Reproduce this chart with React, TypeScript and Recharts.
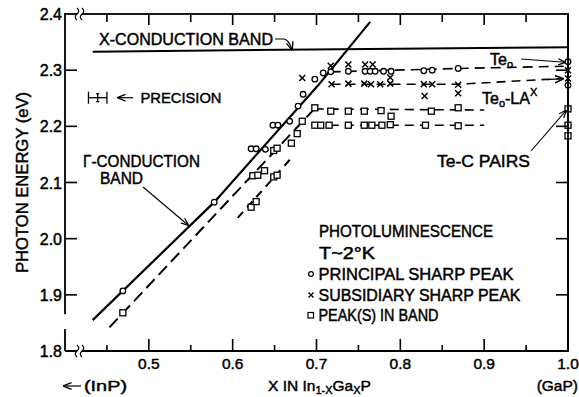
import React from 'react';
import { ScatterChart, Scatter, XAxis, YAxis, ErrorBar, ReferenceLine } from 'recharts';

const W = 579;
const H = 397;
const INK = '#000000';
const FONT = '"Liberation Sans", Arial, Helvetica, sans-serif';

// plot box, has to agree with the margins / axis sizes passed to the chart
const LEFT = 65;
const RIGHT = 568;
const TOP = 14;
const BOTTOM = 351;
const X_MIN = 0.4;
const X_MAX = 1.0;
const Y_MIN = 1.8;
const Y_MAX = 2.4;

const xTicks = [0.4, 0.45, 0.5, 0.55, 0.6, 0.65, 0.7, 0.75, 0.8, 0.85, 0.9, 0.95, 1.0];
const yTicks = [1.8, 1.9, 2.0, 2.1, 2.2, 2.3, 2.4];

// principal sharp peak (open circles)
const principalRise = [
  { x: 0.469, y: 1.907 }, { x: 0.578, y: 2.065 }, { x: 0.622, y: 2.16 }, { x: 0.628, y: 2.16 },
  { x: 0.639, y: 2.159 }, { x: 0.648, y: 2.202 }, { x: 0.654, y: 2.202 }, { x: 0.668, y: 2.209 },
  { x: 0.678, y: 2.236 }, { x: 0.684, y: 2.257 }, { x: 0.698, y: 2.284 }, { x: 0.708, y: 2.295 },
];
const principalFlat = [
  { x: 0.717, y: 2.297 }, { x: 0.738, y: 2.298 }, { x: 0.758, y: 2.298 }, { x: 0.764, y: 2.298 },
  { x: 0.77, y: 2.298 }, { x: 0.78, y: 2.298 }, { x: 0.789, y: 2.298 }, { x: 0.828, y: 2.299 },
  { x: 0.838, y: 2.3 }, { x: 0.869, y: 2.303 }, { x: 1.0, y: 2.315 }, { x: 1.0, y: 2.273 },
];

// subsidiary sharp peak (crosses)
const subsidiaryUpper = [
  { x: 0.683, y: 2.286 }, { x: 0.717, y: 2.308 }, { x: 0.738, y: 2.31 }, { x: 0.758, y: 2.31 },
  { x: 0.767, y: 2.31 }, { x: 0.788, y: 2.287 }, { x: 1.0, y: 2.3 },
];
const subsidiaryLA = [
  { x: 0.718, y: 2.275 }, { x: 0.738, y: 2.276 }, { x: 0.757, y: 2.276 }, { x: 0.765, y: 2.275 },
  { x: 0.776, y: 2.275 }, { x: 0.788, y: 2.276 }, { x: 0.828, y: 2.275 }, { x: 0.838, y: 2.275 },
  { x: 0.869, y: 2.274 }, { x: 0.829, y: 2.254 }, { x: 0.869, y: 2.259 }, { x: 1.0, y: 2.285 },
];

// peak(s) in band (open squares)
const bandRise = [
  { x: 0.469, y: 1.868 }, { x: 0.622, y: 2.056 }, { x: 0.628, y: 2.066 }, { x: 0.624, y: 2.112 },
  { x: 0.63, y: 2.113 }, { x: 0.638, y: 2.121 }, { x: 0.649, y: 2.11 }, { x: 0.653, y: 2.113 },
  { x: 0.649, y: 2.157 }, { x: 0.653, y: 2.161 }, { x: 0.67, y: 2.17 }, { x: 0.677, y: 2.187 },
  { x: 0.683, y: 2.209 },
];
const bandUpper = [
  { x: 0.698, y: 2.233 }, { x: 0.717, y: 2.227 }, { x: 0.738, y: 2.227 }, { x: 0.757, y: 2.227 },
  { x: 0.777, y: 2.228 }, { x: 0.789, y: 2.218 }, { x: 0.837, y: 2.227 }, { x: 0.869, y: 2.233 },
];
const bandLower = [
  { x: 0.698, y: 2.202 }, { x: 0.705, y: 2.202 }, { x: 0.715, y: 2.202 }, { x: 0.738, y: 2.202 },
  { x: 0.757, y: 2.202 }, { x: 0.766, y: 2.202 }, { x: 0.778, y: 2.202 }, { x: 0.788, y: 2.203 },
  { x: 0.83, y: 2.202 }, { x: 0.869, y: 2.201 },
];
const bandGaP = [{ x: 1.0, y: 2.231 }, { x: 1.0, y: 2.202 }, { x: 1.0, y: 2.183 }];

// drawn curves
const xBand = [{ x: 0.433, y: 2.333 }, { x: 1.0, y: 2.341 }];
const gammaBand = [{ x: 0.433, y: 1.855 }, { x: 0.578, y: 2.065 }, { x: 0.702, y: 2.273 }, { x: 0.764, y: 2.386 }];
const gammaShifted = [{ x: 0.453, y: 1.842 }, { x: 0.698, y: 2.232 }];
const lowBranch = [{ x: 0.606, y: 2.037 }, { x: 0.672, y: 2.147 }];
const te0Line = [{ x: 0.717, y: 2.297 }, { x: 0.869, y: 2.303 }, { x: 0.995, y: 2.307 }];
const te0LALine = [{ x: 0.718, y: 2.275 }, { x: 0.869, y: 2.275 }, { x: 0.992, y: 2.285 }];
const bandUpperLine = [{ x: 0.698, y: 2.231 }, { x: 0.9, y: 2.229 }];
const bandLowerLine = [{ x: 0.698, y: 2.202 }, { x: 0.9, y: 2.202 }];

const precision = [{ x: 0.439, y: 2.251, err: 0.011 }];

const sx = (x: number) => LEFT + ((x - X_MIN) / (X_MAX - X_MIN)) * (RIGHT - LEFT);
const sy = (y: number) => TOP + ((Y_MAX - y) / (Y_MAX - Y_MIN)) * (BOTTOM - TOP);

const isMajor = (v: number) => Math.round(v * 20) % 2 === 0;
const textStyle = { fontFamily: FONT, fill: INK, stroke: INK, strokeWidth: 0.45 };

const Circle = (p: any) => <circle cx={p.cx} cy={p.cy} r={2.8} fill="#fff" stroke={INK} strokeWidth={1.3} />;
const Cross = (p: any) => (
  <path
    d={`M${p.cx - 3},${p.cy - 3}L${p.cx + 3},${p.cy + 3}M${p.cx + 3},${p.cy - 3}L${p.cx - 3},${p.cy + 3}`}
    stroke={INK}
    strokeWidth={1.5}
  />
);
const Box = (p: any) => (
  <rect x={p.cx - 3} y={p.cy - 3} width={6} height={6} fill="#fff" stroke={INK} strokeWidth={1.3} />
);
const Nothing = () => <g />;
const PrecisionMark = (p: any) => (
  <path d={`M${p.cx},${p.cy - 4}V${p.cy + 4}M${p.cx - 1.5},${p.cy - 4}h3M${p.cx - 1.5},${p.cy + 4}h3`} stroke={INK} strokeWidth={1.3} />
);

// tick label plus its inward tick mark, drawn together
const BottomTick = (p: any) => {
  const v = p.payload.value;
  if (v < 0.41) return <g />;
  const major = isMajor(v);
  const len = major ? 12 : 6;
  return (
    <g>
      {v < 0.99 && <rect x={p.x - 0.8} y={p.y - len} width={1.6} height={len} fill={INK} />}
      {major && (
        <text x={p.x} y={p.y + 18} textAnchor="middle" fontSize={15.5} style={textStyle}>
          {v.toFixed(1)}
        </text>
      )}
    </g>
  );
};

const LeftTick = (p: any) => {
  const v = p.payload.value;
  const inner = v > 1.81 && v < 2.39;
  return (
    <g>
      {inner && <rect x={p.x} y={p.y - 0.8} width={12} height={1.6} fill={INK} />}
      {inner && <rect x={RIGHT - 12} y={p.y - 0.8} width={12} height={1.6} fill={INK} />}
      <text x={p.x - 3} y={p.y + 6} textAnchor="end" fontSize={16} style={textStyle}>
        {v.toFixed(1)}
      </text>
    </g>
  );
};

const Label = ({ x, y, w, size = 16, anchor = 'start', children }: any) => (
  <text
    x={x}
    y={y}
    fontSize={size}
    textAnchor={anchor}
    textLength={w}
    lengthAdjust={w ? 'spacingAndGlyphs' : undefined}
    style={textStyle}
  >
    {children}
  </text>
);

const Squiggle = ({ x, y }: any) => (
  <path d={`M${x},${y - 6}q3.5,3 0,6q-3.5,3 0,6`} fill="none" stroke={INK} strokeWidth={1.2} />
);

const Overlay = () => (
  <svg width={W} height={H} style={{ position: 'absolute', left: 0, top: 0, pointerEvents: 'none' }}>
    <defs>
      <marker id="head" viewBox="0 0 10 10" refX="9" refY="5" markerWidth="7" markerHeight="7" orient="auto">
        <path d="M0,1L10,5L0,9" fill="none" stroke={INK} strokeWidth={1.6} />
      </marker>
    </defs>

    {/* frame: top, right and the broken left side, plus top ticks */}
    <rect x={LEFT - 0.9} y={TOP - 0.9} width={RIGHT - LEFT + 1.8} height={1.8} fill={INK} />
    <rect x={RIGHT - 0.9} y={TOP - 0.9} width={1.8} height={BOTTOM - TOP + 1.8} fill={INK} />
    <rect x={LEFT - 0.9} y={TOP - 0.9} width={1.8} height={sy(1.864) - TOP} fill={INK} />
    <rect x={LEFT - 0.9} y={sy(1.839)} width={1.8} height={BOTTOM - sy(1.839)} fill={INK} />
    {xTicks
      .filter((v) => v > 0.41 && v < 0.99)
      .map((v) => (
        <rect key={v} x={sx(v) - 0.8} y={TOP} width={1.6} height={isMajor(v) ? 11 : 8} fill={INK} />
      ))}

    {/* axis breaks */}
    <rect x={77} y={TOP - 3} width={5} height={6} fill="#fff" />
    <Squiggle x={77} y={TOP} />
    <Squiggle x={82} y={TOP} />
    <rect x={77} y={BOTTOM - 3} width={5} height={6} fill="#fff" />
    <Squiggle x={77} y={BOTTOM} />
    <Squiggle x={82} y={BOTTOM} />

    <Label x={99} y={44.5} w={174}>X-CONDUCTION BAND</Label>
    <path d="M275,39L284,39Q289,40 292,49.5" fill="none" stroke={INK} strokeWidth={1.2} markerEnd="url(#head)" />

    <line x1={133} x2={118} y1={sy(2.251)} y2={sy(2.251)} stroke={INK} strokeWidth={1.2} markerEnd="url(#head)" />
    <Label x={140.5} y={102.5} w={81} size={15}>PRECISION</Label>

    <Label x={83} y={167} w={117}>Γ-CONDUCTION</Label>
    <Label x={100} y={183.5} w={43}>BAND</Label>
    <line x1={143} y1={187} x2={188} y2={225} stroke={INK} strokeWidth={1.1} markerEnd="url(#head)" />

    <text x={490} y={65} fontSize={16} style={textStyle}>
      Te<tspan fontSize={11} dy={3}>o</tspan>
    </text>
    <line x1={521} y1={59} x2={565} y2={sy(2.314)} stroke={INK} strokeWidth={1.1} markerEnd="url(#head)" />
    <line x1={sx(0.975)} y1={sy(2.2833)} x2={sx(0.994)} y2={sy(2.2848)} stroke={INK} strokeWidth={1.3} markerEnd="url(#head)" />

    <text x={482} y={104} fontSize={16} style={textStyle}>
      Te<tspan fontSize={11} dy={3}>o</tspan>
      <tspan dy={-3}>-LA</tspan>
      <tspan fontSize={11} dy={-8}>X</tspan>
    </text>

    <Label x={437} y={167} w={93}>Te-C  PAIRS</Label>
    <line x1={531} y1={151} x2={566} y2={sy(2.228)} stroke={INK} strokeWidth={1.1} markerEnd="url(#head)" />

    <Label x={319} y={236.5} w={174}>PHOTOLUMINESCENCE</Label>
    <Label x={319} y={258.5} w={56}>T~2°K</Label>
    <circle cx={311} cy={274} r={2.4} fill="#fff" stroke={INK} strokeWidth={1.2} />
    <Label x={318.5} y={280} w={195}>PRINCIPAL SHARP PEAK</Label>
    <path d="M308.5,292.5l5,5m0,-5l-5,5" stroke={INK} strokeWidth={1.4} />
    <Label x={318.5} y={300.5} w={202}>SUBSIDIARY SHARP PEAK</Label>
    <rect x={308} y={312.5} width={5.5} height={5.5} fill="#fff" stroke={INK} strokeWidth={1.2} />
    <Label x={318.5} y={320.5} w={120}>PEAK(S) IN BAND</Label>

    <text
      x={28}
      y={182.5}
      fontSize={16}
      textAnchor="middle"
      textLength={181}
      lengthAdjust="spacingAndGlyphs"
      transform="rotate(-90 28 182.5)"
      style={textStyle}
    >
      PHOTON ENERGY (eV)
    </text>

    <line x1={81} x2={64} y1={386} y2={386} stroke={INK} strokeWidth={1.2} markerEnd="url(#head)" />
    <Label x={84} y={391} w={43} size={15.5}>(InP)</Label>
    <text x={268} y={391} fontSize={15.5} style={textStyle}>
      X  IN  In<tspan fontSize={11} dy={3}>1-X</tspan>
      <tspan dy={-3}>Ga</tspan>
      <tspan fontSize={11} dy={3}>X</tspan>
      <tspan dy={-3}>P</tspan>
    </text>
    <Label x={578} y={391} size={15.5} anchor="end">(GaP)</Label>
  </svg>
);

export default function App() {
  return (
    <div style={{ position: 'absolute', left: 0, top: 0, width: W, height: H, background: '#fff' }}>
      <ScatterChart width={W} height={H} margin={{ top: TOP, right: W - RIGHT, bottom: 0, left: 0 }}>
        <XAxis
          type="number"
          dataKey="x"
          domain={[X_MIN, X_MAX]}
          ticks={xTicks}
          interval={0}
          height={H - BOTTOM}
          tickSize={0}
          tickMargin={0}
          tickLine={false}
          axisLine={{ stroke: INK, strokeWidth: 1.8 }}
          tick={(p: any) => <BottomTick {...p} />}
        />
        <YAxis
          type="number"
          dataKey="y"
          domain={[Y_MIN, Y_MAX]}
          ticks={yTicks}
          interval={0}
          width={LEFT}
          tickSize={0}
          tickMargin={0}
          tickLine={false}
          axisLine={false}
          tick={(p: any) => <LeftTick {...p} />}
        />
        <ReferenceLine x={X_MAX} stroke={INK} strokeWidth={1.8} ifOverflow="visible" />

        <Scatter data={xBand} line={{ stroke: INK, strokeWidth: 2 }} shape={Nothing} isAnimationActive={false} />
        <Scatter data={gammaBand} line={{ stroke: INK, strokeWidth: 2.2 }} shape={Nothing} isAnimationActive={false} />
        <Scatter data={gammaShifted} line={{ stroke: INK, strokeWidth: 2, strokeDasharray: '12 6' }} shape={Nothing} isAnimationActive={false} />
        <Scatter data={lowBranch} line={{ stroke: INK, strokeWidth: 2, strokeDasharray: '8 6' }} shape={Nothing} isAnimationActive={false} />
        <Scatter data={te0Line} line={{ stroke: INK, strokeWidth: 1.6, strokeDasharray: '10 6' }} shape={Nothing} isAnimationActive={false} />
        <Scatter data={te0LALine} line={{ stroke: INK, strokeWidth: 1.6, strokeDasharray: '9 6' }} shape={Nothing} isAnimationActive={false} />
        <Scatter data={bandUpperLine} line={{ stroke: INK, strokeWidth: 1.6, strokeDasharray: '9 6' }} shape={Nothing} isAnimationActive={false} />
        <Scatter data={bandLowerLine} line={{ stroke: INK, strokeWidth: 1.6, strokeDasharray: '9 6' }} shape={Nothing} isAnimationActive={false} />

        <Scatter data={bandRise} shape={Box} isAnimationActive={false} />
        <Scatter data={bandUpper} shape={Box} isAnimationActive={false} />
        <Scatter data={bandLower} shape={Box} isAnimationActive={false} />
        <Scatter data={bandGaP} shape={Box} isAnimationActive={false} />
        <Scatter data={principalRise} shape={Circle} isAnimationActive={false} />
        <Scatter data={principalFlat} shape={Circle} isAnimationActive={false} />
        <Scatter data={subsidiaryUpper} shape={Cross} isAnimationActive={false} />
        <Scatter data={subsidiaryLA} shape={Cross} isAnimationActive={false} />

        <Scatter data={precision} shape={PrecisionMark} isAnimationActive={false}>
          <ErrorBar dataKey="err" direction="x" width={6} stroke={INK} strokeWidth={1.3} isAnimationActive={false} />
        </Scatter>
      </ScatterChart>
      <Overlay />
    </div>
  );
}
